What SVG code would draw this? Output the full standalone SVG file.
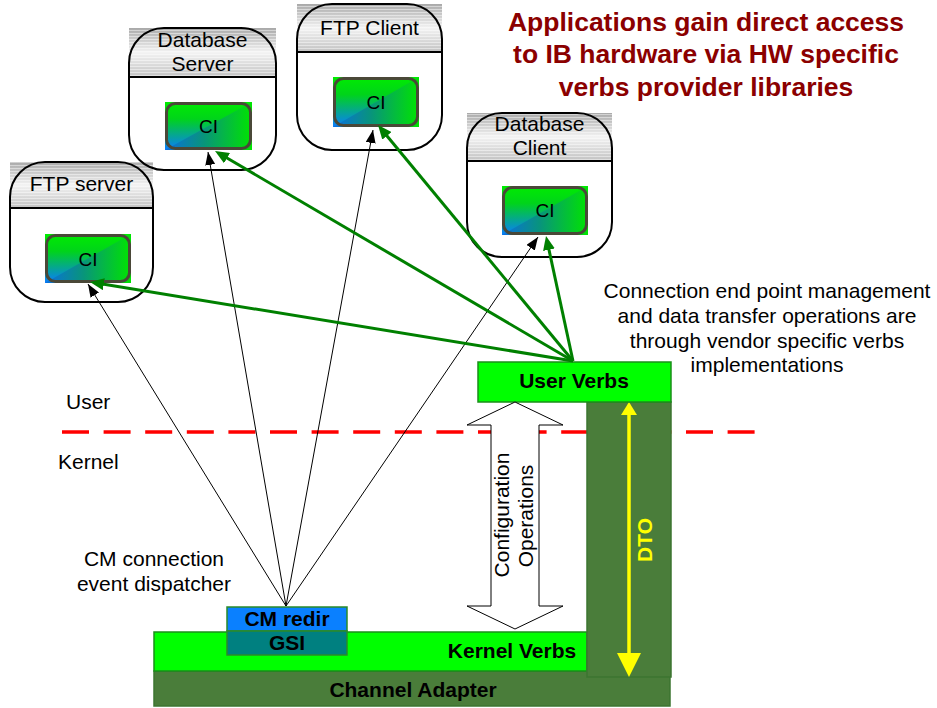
<svg xmlns="http://www.w3.org/2000/svg" width="937" height="708" viewBox="0 0 937 708">
  <defs>
    <linearGradient id="hdrGrad" x1="0" y1="0" x2="0" y2="1">
      <stop offset="0" stop-color="#a9a9a9"/>
      <stop offset="0.5" stop-color="#f3f3f3"/>
      <stop offset="1" stop-color="#c2c2c2"/>
    </linearGradient>
    <pattern id="stripes" width="6" height="3" patternUnits="userSpaceOnUse">
      <rect x="0" y="0" width="6" height="1" fill="#ffffff" fill-opacity="0.45"/>
    </pattern>
    <linearGradient id="ciBase" x1="0" y1="0" x2="0" y2="1">
      <stop offset="0" stop-color="#00ec00"/>
      <stop offset="0.35" stop-color="#00d41a"/>
      <stop offset="1" stop-color="#0a7cff"/>
    </linearGradient>
    <linearGradient id="ciSide" x1="0" y1="0" x2="1" y2="0">
      <stop offset="0" stop-color="#0b6fe0"/>
      <stop offset="0.45" stop-color="#08957a"/>
      <stop offset="1" stop-color="#00e400"/>
    </linearGradient>
    <marker id="headBlack" markerUnits="userSpaceOnUse" markerWidth="13" markerHeight="10" refX="13" refY="5" orient="auto">
      <path d="M0,0 L13,5 L0,10 z" fill="#000"/>
    </marker>
    <marker id="headGreen" markerUnits="userSpaceOnUse" markerWidth="15" markerHeight="12" refX="6" refY="6" orient="auto">
      <path d="M0,0 L14,6 L0,12 z" fill="#008000"/>
    </marker>
  </defs>
  <style>
    .txt { font-family: "Liberation Sans", Arial, sans-serif; font-size: 21px; fill: #000; }
    .bold { font-weight: bold; }
    .mid { text-anchor: middle; }
    .hdr { fill: url(#hdrGrad); }
    .hdrStripe { fill: url(#stripes); }
    .shell { fill: none; stroke: #000; stroke-width: 2; }
    .divider { stroke: #000; stroke-width: 2; }
    .ciBase { fill: url(#ciBase); }
    .ciSide { fill: url(#ciSide); }
    .ciEdge { fill: none; stroke: #4a4838; stroke-width: 3; }
    .ciTxt { font-family: "Liberation Sans", Arial, sans-serif; font-size: 19px; fill: #000; text-anchor: middle; }
    .dark { fill: #4a7d3a; stroke: #3c7530; stroke-width: 1.5; }
    .bright { fill: #00ff00; stroke: #1a8f1a; stroke-width: 1.5; }
    .thin { stroke: #000; stroke-width: 1; fill: none; marker-end: url(#headBlack); }
    .thick { stroke: #008000; stroke-width: 3; fill: none; marker-end: url(#headGreen); }
  </style>

  <rect x="0" y="0" width="937" height="708" fill="#ffffff"/>

  <!-- headline -->
  <g id="title" class="txt bold mid" style="font-size:26.5px; fill:#8b0000">
    <text x="706" y="31">Applications gain direct access</text>
    <text x="706" y="63">to IB hardware via HW specific</text>
    <text x="706" y="96">verbs provider libraries</text>
  </g>

  <!-- user / kernel boundary -->
  <g id="boundary">
    <line x1="62" y1="432" x2="757" y2="432" stroke="#ff0000" stroke-width="3.5" stroke-dasharray="27 14.6"/>
    <text class="txt" x="66" y="409">User</text>
    <text class="txt" x="58" y="469">Kernel</text>
  </g>

  <!-- application nodes -->
  <g id="ftp-server">
    <rect class="hdr" x="10" y="162" width="143" height="46"/>
    <rect class="hdrStripe" x="10" y="162" width="143" height="46"/>
    <rect class="shell" x="10" y="162" width="143" height="140" rx="35" ry="35"/>
    <line class="divider" x1="10" y1="208" x2="153" y2="208"/>
    <text class="txt mid" x="81.5" y="191">FTP server</text>
    <g id="ftp-server-ci">
      <rect class="ciBase" x="45" y="234" width="86" height="49"/>
      <polygon class="ciSide" points="45,283 131,234 131,283"/>
      <rect class="ciEdge" x="46.5" y="235.5" width="83" height="46" rx="9" ry="9"/>
      <text class="ciTxt" x="88" y="266">CI</text>
    </g>
  </g>

  <g id="db-server">
    <rect class="hdr" x="129" y="28" width="147" height="49"/>
    <rect class="hdrStripe" x="129" y="28" width="147" height="49"/>
    <rect class="shell" x="129" y="28" width="147" height="142" rx="35" ry="35"/>
    <line class="divider" x1="129" y1="77" x2="276" y2="77"/>
    <text class="txt mid" x="202.5" y="47">Database</text>
    <text class="txt mid" x="202.5" y="71">Server</text>
    <g id="db-server-ci">
      <rect class="ciBase" x="165" y="102" width="87" height="48"/>
      <polygon class="ciSide" points="165,150 252,102 252,150"/>
      <rect class="ciEdge" x="166.5" y="103.5" width="84" height="45" rx="9" ry="9"/>
      <text class="ciTxt" x="208.5" y="133">CI</text>
    </g>
  </g>

  <g id="ftp-client">
    <rect class="hdr" x="297" y="4" width="145" height="48"/>
    <rect class="hdrStripe" x="297" y="4" width="145" height="48"/>
    <rect class="shell" x="297" y="4" width="145" height="146" rx="35" ry="35"/>
    <line class="divider" x1="297" y1="52" x2="442" y2="52"/>
    <text class="txt mid" x="369.5" y="35">FTP Client</text>
    <g id="ftp-client-ci">
      <rect class="ciBase" x="333" y="77" width="86" height="50"/>
      <polygon class="ciSide" points="333,127 419,77 419,127"/>
      <rect class="ciEdge" x="334.5" y="78.5" width="83" height="47" rx="9" ry="9"/>
      <text class="ciTxt" x="376" y="109">CI</text>
    </g>
  </g>

  <g id="db-client">
    <rect class="hdr" x="467" y="113" width="145" height="48"/>
    <rect class="hdrStripe" x="467" y="113" width="145" height="48"/>
    <rect class="shell" x="467" y="113" width="145" height="144" rx="35" ry="35"/>
    <line class="divider" x1="467" y1="161" x2="612" y2="161"/>
    <text class="txt mid" x="539.5" y="131">Database</text>
    <text class="txt mid" x="539.5" y="155">Client</text>
    <g id="db-client-ci">
      <rect class="ciBase" x="502" y="186" width="86" height="49"/>
      <polygon class="ciSide" points="502,235 588,186 588,235"/>
      <rect class="ciEdge" x="503.5" y="187.5" width="83" height="46" rx="9" ry="9"/>
      <text class="ciTxt" x="545" y="217">CI</text>
    </g>
  </g>

  <!-- kernel / hardware stack -->
  <g id="channel-adapter">
    <rect class="dark" x="154" y="671" width="516" height="35"/>
    <text class="txt bold mid" x="413" y="697">Channel Adapter</text>
  </g>
  <g id="kernel-verbs">
    <rect class="bright" x="154" y="632" width="433" height="39"/>
    <text class="txt bold mid" x="512" y="658">Kernel Verbs</text>
  </g>
  <g id="cm-redir">
    <rect x="227" y="607" width="120" height="24" fill="#0a80ff" stroke="#2a8a2a" stroke-width="1.5"/>
    <text class="txt bold mid" x="287" y="626">CM redir</text>
  </g>
  <g id="gsi">
    <rect x="227" y="631" width="120" height="24" fill="#008080" stroke="#2a8a2a" stroke-width="1.5"/>
    <text class="txt bold mid" x="287" y="650">GSI</text>
  </g>
  <g id="dto">
    <rect class="dark" x="587" y="402" width="84" height="275"/>
    <line x1="629" y1="413" x2="629" y2="656" stroke="#ffff00" stroke-width="3.5"/>
    <polygon points="629,402 637,415 621,415" fill="#ffff00"/>
    <polygon points="629,677 617,653 641,653" fill="#ffff00"/>
    <text class="txt bold mid" transform="translate(652,540) rotate(-90)" style="fill:#ffff00">DTO</text>
  </g>
  <g id="user-verbs">
    <rect class="bright" x="478" y="362" width="193" height="40"/>
    <text class="txt bold mid" x="574" y="388">User Verbs</text>
  </g>
  <g id="config-ops">
    <polygon points="515,402 563,425 539,425 539,606 563,606 515,629 467,606 491,606 491,425 467,425" fill="#ffffff" stroke="#000" stroke-width="1"/>
    <text class="txt mid" transform="translate(509,515) rotate(-90)">Configuration</text>
    <text class="txt mid" transform="translate(533,516) rotate(-90)">Operations</text>
  </g>

  <!-- side notes -->
  <g id="notes" class="txt mid">
    <text x="767" y="298">Connection end point management</text>
    <text x="767" y="323">and data transfer operations are</text>
    <text x="767" y="348">through vendor specific verbs</text>
    <text x="767" y="372">implementations</text>
    <text x="154" y="566">CM connection</text>
    <text x="154" y="591">event dispatcher</text>
  </g>

  <!-- connectors -->
  <g id="connectors">
    <line class="thin" x1="286" y1="606" x2="88" y2="284"/>
    <line class="thin" x1="286" y1="606" x2="208" y2="152"/>
    <line class="thin" x1="286" y1="606" x2="373" y2="130"/>
    <line class="thin" x1="286" y1="606" x2="538" y2="237"/>
    <line class="thick" x1="573" y1="361" x2="97.9" y2="283.3"/>
    <line class="thick" x1="573" y1="361" x2="221.9" y2="155.05"/>
    <line class="thick" x1="573" y1="361" x2="383.1" y2="131.2"/>
    <line class="thick" x1="573" y1="361" x2="547.7" y2="243.8"/>
  </g>
</svg>
